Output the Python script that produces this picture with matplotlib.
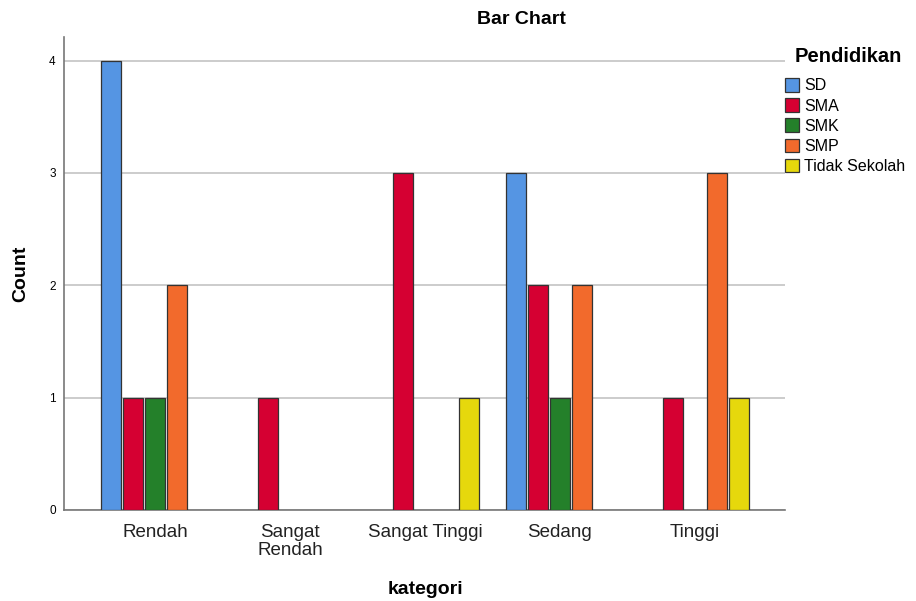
import numpy as np
import matplotlib.pyplot as plt
from matplotlib.patches import Patch

plt.rcParams['font.family'] = ['Liberation Sans', 'DejaVu Sans']

kategori = ['Rendah', 'Sangat\nRendah', 'Sangat Tinggi', 'Sedang', 'Tinggi']
pendidikan = ['SD', 'SMA', 'SMK', 'SMP', 'Tidak Sekolah']
sd = [4, 0, 0, 3, 0]
sma = [1, 1, 3, 2, 1]
smk = [1, 0, 0, 1, 0]
smp = [2, 0, 0, 2, 3]
tidak = [0, 0, 1, 0, 1]
counts = [sd, sma, smk, smp, tidak]
colors = ['#5595e3', '#d50032', '#24802a', '#f26a2c', '#e6d80c']

fig = plt.figure(figsize=(9.16, 6.01), dpi=100)
ax = fig.add_axes([64/916, 91/601, (785-64)/916, (510-37)/601])

x = np.arange(len(kategori))
w = 22/135
for i, (vals, c) in enumerate(zip(counts, colors)):
    vals = np.array(vals)
    m = vals > 0
    ax.bar(x[m] + (i - 2) * w, vals[m], width=w*0.92, color=c,
           edgecolor='#333333', linewidth=0.9, zorder=3)

ax.set_xlim(-0.674, 4.667)
ax.set_ylim(0, 4.21)
ax.set_yticks([0, 1, 2, 3, 4])
ax.set_xticks(x)
ax.set_xticklabels(kategori, fontsize=13.5, color='#222222', linespacing=1.1)
ax.tick_params(axis='y', length=0, labelsize=8.5, pad=6)
ax.tick_params(axis='x', length=0, pad=10)
ax.yaxis.grid(True, color='#c8c8c8', linewidth=1.3, zorder=0)
for s in ['top', 'right']:
    ax.spines[s].set_visible(False)
for s in ['left', 'bottom']:
    ax.spines[s].set_color('#777777')
    ax.spines[s].set_linewidth(1.2)

ax.set_ylabel('Count', fontsize=14, fontweight='bold', labelpad=14)
fig.text(425/916, 1 - 590/601, 'kategori', ha='center', va='center',
         fontsize=14, fontweight='bold')
fig.text(521/916, 1 - 20/601, 'Bar Chart', ha='center', va='center',
         fontsize=14, fontweight='bold')

fig.text(795/916, 1 - 57/601, 'Pendidikan', ha='left', va='center',
         fontsize=14.5, fontweight='bold')
handles = [Patch(facecolor=c, edgecolor='#333333', linewidth=0.9) for c in colors]
leg = fig.legend(handles, pendidikan, loc='upper left',
                 bbox_to_anchor=(785/916, 1 - 78/601), frameon=False,
                 fontsize=11.5, handlelength=0.9, handleheight=0.95,
                 handletextpad=0.3, labelspacing=0.3, borderaxespad=0,
                 borderpad=0)

fig.savefig('out.png', dpi=100)
